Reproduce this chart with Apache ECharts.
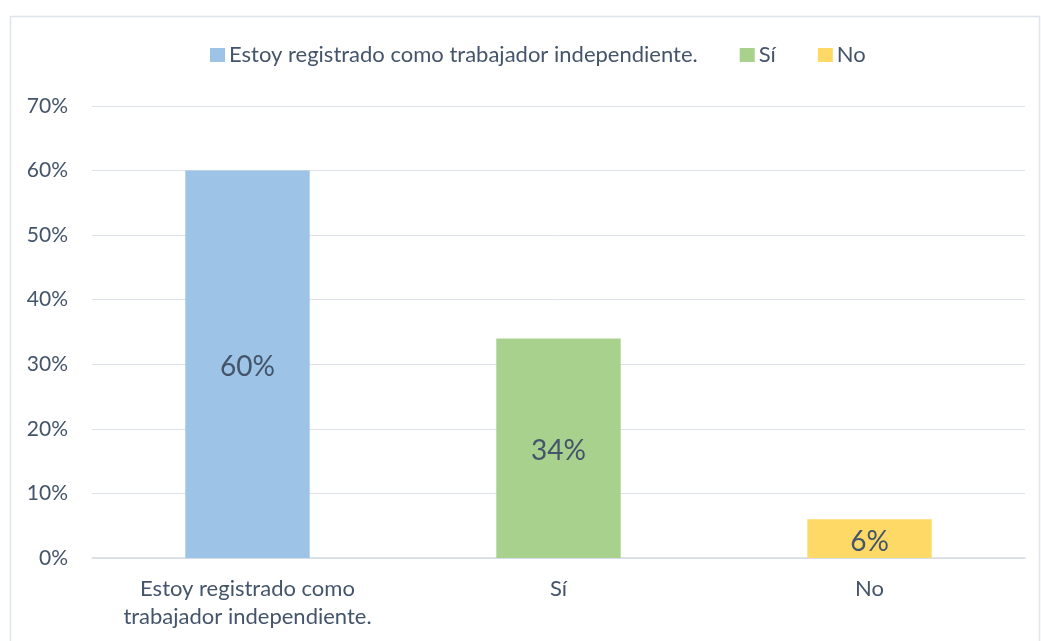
<!DOCTYPE html>
<html>
<head>
<meta charset="utf-8">
<script src="https://cdn.jsdelivr.net/npm/echarts@6/dist/echarts.min.js"></script>
<style>
  html, body { margin: 0; padding: 0; background: #fff; }
  #chart { width: 1041px; height: 641px; }
</style>
</head>
<body>
<div id="chart"></div>
<script>
const categories = ['Estoy registrado como\ntrabajador independiente.', 'Sí', 'No'];
const seriesNames = ['Estoy registrado como trabajador independiente.', 'Sí', 'No'];
const values = [60, 34, 6];
const colors = ['#9DC3E6', '#A9D18E', '#FFD966'];
const yTicks = [0, 10, 20, 30, 40, 50, 60, 70];

const textColor = '#44546A';
const font = 'Lato';

const chart = echarts.init(document.getElementById('chart'));

// one series per category so each gets its own legend entry
const series = seriesNames.map(function (name, i) {
  return {
    name: name,
    type: 'bar',
    stack: 'all',
    barWidth: '40%',
    itemStyle: { color: colors[i] },
    label: {
      show: true,
      position: 'inside',
      offset: [0, 3],
      formatter: '{c}%',
      fontFamily: font,
      fontSize: 28,
      color: textColor
    },
    data: values.map(function (v, j) { return j === i ? v : '-'; })
  };
});

chart.setOption({
  backgroundColor: '#fff',
  animation: false,
  graphic: [{
    type: 'rect',
    shape: { x: 10.5, y: 16.5, width: 1029, height: 700 },
    style: { fill: 'none', stroke: '#E0E4EC', lineWidth: 1.5 },
    silent: true
  }],
  legend: {
    top: 39,
    left: 205,
    itemWidth: 15,
    itemHeight: 14,
    itemGap: 42,
    icon: 'rect',
    textStyle: { fontFamily: font, fontSize: 22, color: textColor, padding: [0, 0, 0, -1] },
    data: seriesNames
  },
  grid: { left: 92, right: 16, top: 106, bottom: 83 },
  xAxis: {
    type: 'category',
    data: categories,
    axisLine: { lineStyle: { color: '#D5DBE5', width: 1.5 } },
    axisTick: { show: false },
    axisLabel: {
      fontFamily: font,
      fontSize: 22,
      color: textColor,
      margin: 17,
      lineHeight: 28,
      interval: 0
    }
  },
  yAxis: {
    type: 'value',
    min: yTicks[0],
    max: yTicks[yTicks.length - 1],
    interval: 10,
    axisLine: { show: false },
    axisTick: { show: false },
    splitLine: { lineStyle: { color: '#DDE2EA', width: 1 } },
    axisLabel: {
      fontFamily: font,
      fontSize: 21,
      color: textColor,
      margin: 24,
      formatter: '{value}%'
    }
  },
  series: series
});
</script>
</body>
</html>
